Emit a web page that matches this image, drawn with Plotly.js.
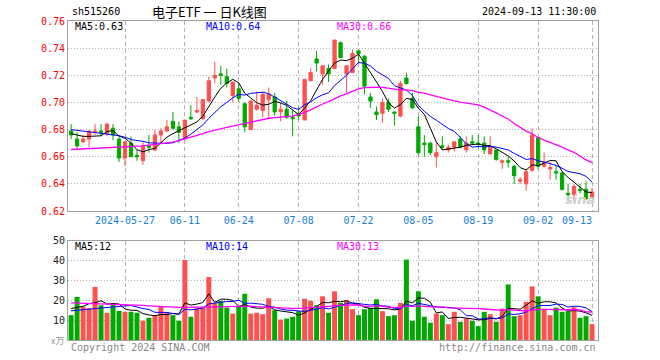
<!DOCTYPE html>
<html><head><meta charset="utf-8">
<script src="https://cdn.plot.ly/plotly-3.0.1.min.js"></script>
<style>html,body{margin:0;padding:0;background:#fff}#chart{width:660px;height:360px}</style>
</head><body><div id="chart"></div>
<script>
const dates = ['2024-05-14','2024-05-15','2024-05-16','2024-05-17','2024-05-20','2024-05-21','2024-05-22','2024-05-23','2024-05-24','2024-05-27','2024-05-28','2024-05-29','2024-05-30','2024-05-31',
'2024-06-03','2024-06-04','2024-06-05','2024-06-06','2024-06-07','2024-06-11','2024-06-12','2024-06-13','2024-06-14','2024-06-17','2024-06-18','2024-06-19','2024-06-20','2024-06-21','2024-06-24','2024-06-25','2024-06-26','2024-06-27','2024-06-28',
'2024-07-01','2024-07-02','2024-07-03','2024-07-04','2024-07-05','2024-07-08','2024-07-09','2024-07-10','2024-07-11','2024-07-12','2024-07-15','2024-07-16','2024-07-17','2024-07-18','2024-07-19','2024-07-22','2024-07-23','2024-07-24','2024-07-25','2024-07-26','2024-07-29','2024-07-30','2024-07-31',
'2024-08-01','2024-08-02','2024-08-05','2024-08-06','2024-08-07','2024-08-08','2024-08-09','2024-08-12','2024-08-13','2024-08-14','2024-08-15','2024-08-16','2024-08-19','2024-08-20','2024-08-21','2024-08-22','2024-08-23','2024-08-26','2024-08-27','2024-08-28','2024-08-29','2024-08-30',
'2024-09-02','2024-09-03','2024-09-04','2024-09-05','2024-09-06','2024-09-09','2024-09-10','2024-09-11','2024-09-12','2024-09-13'];

const openP = [0.679,0.673,0.671,0.673,0.678,0.679,0.677,0.681,0.673,0.659,0.670,0.661,0.657,0.668,
0.665,0.676,0.679,0.686,0.682,0.674,0.689,0.693,0.688,0.701,0.718,0.721,0.719,0.705,0.710,0.699,0.680,0.695,0.694,
0.702,0.704,0.693,0.695,0.689,0.692,0.687,0.716,0.732,0.721,0.725,0.725,0.744,0.721,0.722,0.738,0.734,0.704,0.693,0.692,0.700,0.693,0.690,
0.718,0.703,0.682,0.670,0.670,0.660,0.668,0.665,0.667,0.673,0.665,0.671,0.670,0.670,0.662,0.665,0.656,0.657,0.653,0.642,0.640,0.650,
0.674,0.653,0.651,0.649,0.648,0.633,0.632,0.636,0.636,0.630];
const highP = [0.684,0.678,0.676,0.679,0.684,0.684,0.685,0.684,0.675,0.671,0.675,0.665,0.671,0.676,
0.680,0.681,0.687,0.693,0.686,0.687,0.698,0.704,0.702,0.719,0.730,0.727,0.725,0.715,0.714,0.700,0.702,0.708,0.708,
0.711,0.707,0.700,0.701,0.694,0.697,0.717,0.725,0.738,0.727,0.728,0.746,0.745,0.727,0.739,0.739,0.735,0.707,0.697,0.703,0.703,0.693,0.716,
0.722,0.707,0.690,0.676,0.671,0.671,0.675,0.669,0.671,0.675,0.675,0.676,0.676,0.675,0.675,0.665,0.658,0.660,0.654,0.645,0.651,0.681,
0.674,0.663,0.656,0.654,0.649,0.640,0.640,0.640,0.642,0.637];
const lowP = [0.673,0.665,0.670,0.667,0.676,0.675,0.675,0.672,0.656,0.653,0.660,0.657,0.654,0.663,
0.664,0.670,0.678,0.680,0.670,0.672,0.687,0.692,0.687,0.700,0.714,0.713,0.711,0.700,0.700,0.678,0.680,0.694,0.689,
0.689,0.690,0.686,0.688,0.675,0.687,0.687,0.716,0.723,0.713,0.715,0.725,0.733,0.707,0.722,0.729,0.706,0.696,0.687,0.685,0.693,0.683,0.689,
0.713,0.695,0.661,0.660,0.661,0.652,0.665,0.663,0.664,0.666,0.663,0.669,0.666,0.662,0.662,0.657,0.651,0.652,0.640,0.640,0.635,0.649,
0.651,0.652,0.643,0.643,0.635,0.627,0.627,0.633,0.628,0.629];
const closeP = [0.676,0.668,0.673,0.679,0.679,0.678,0.684,0.676,0.659,0.671,0.660,0.660,0.668,0.667,
0.676,0.679,0.682,0.681,0.678,0.687,0.688,0.694,0.702,0.716,0.720,0.720,0.714,0.715,0.703,0.682,0.701,0.698,0.706,
0.706,0.693,0.695,0.689,0.688,0.690,0.717,0.722,0.729,0.727,0.721,0.746,0.733,0.727,0.736,0.736,0.712,0.701,0.691,0.700,0.695,0.692,0.714,
0.714,0.696,0.663,0.669,0.663,0.663,0.667,0.667,0.671,0.667,0.670,0.670,0.669,0.665,0.667,0.658,0.657,0.656,0.646,0.643,0.649,0.676,
0.653,0.656,0.652,0.648,0.636,0.632,0.638,0.635,0.629,0.634];
const volume = [12.5,21.7,16.8,16.0,26.7,17.5,13.7,18.0,14.7,14.2,14.2,13.7,9.7,11.2,
12.5,17.0,13.7,12.5,9.7,40.3,11.7,16.3,16.3,31.7,18.7,19.7,16.3,13.3,16.7,23.3,13.3,13.7,13.0,
21.0,15.0,10.3,10.8,11.7,14.5,20.8,19.7,17.5,22.0,13.7,24.5,18.7,20.0,15.5,12.5,15.5,16.2,20.5,14.5,12.0,12.5,18.7,
40.5,9.7,24.5,11.7,8.7,13.3,12.5,8.0,14.2,9.2,10.8,9.7,7.0,14.2,13.0,9.2,15.8,28.0,12.0,12.5,19.2,27.0,
22.0,15.5,12.5,16.3,14.2,14.5,16.5,11.2,12.0,8.0];

// moving-average values for the first days (before a full window exists)
const ma5Head = [0.677,0.676,0.675,0.675];
const ma10Head = [0.680,0.6795,0.679,0.6785,0.678,0.6775,0.677,0.6765,0.6755];
const ma30Head = [0.6653,0.6655,0.6656,0.6658,0.6660,0.6663,0.6666,0.6668,0.6670,0.6673,0.6675,0.6677,0.6680,0.6685,0.6690,0.6694,0.6700,0.6708,0.6718,0.6730,0.6742,0.6755,0.6770,0.6785,0.6797,0.6807,0.6816,0.6825,0.6835];
const vma5Head = [15.8,16.3,17.0,18.3];
const vma10Head = [14.7,15.0,15.3,15.6,16.0,16.3,16.6,16.8,17.0];
const vma30Head = [18.7,18.6,18.5,18.4,18.4,18.3,18.3,18.2,18.0,17.9,17.7,17.5,17.4,17.2,17.0,16.9,16.7,16.6,16.4,16.4,16.4,16.4,16.5,16.5,16.6,16.7,16.8,16.9,16.9];

const dateTicks = ['2024-05-27','2024-06-11','2024-06-24','2024-07-08','2024-07-22','2024-08-05','2024-08-19','2024-09-02','2024-09-13'];
const dateTickText = ['2024-05-27','06-11','06-24','07-08','07-22','08-05','08-19','09-02','09-13'];
const priceTicks = [0.62,0.64,0.66,0.68,0.70,0.72,0.74,0.76];
const volTicks = [10,20,30,40,50];
const priceLegend = ['MA5:0.63','MA10:0.64','MA30:0.66'];
const volLegend = ['MA5:12','MA10:14','MA30:13'];

function movingAvg(vals, n, head){
  return vals.map((v,i)=>{
    if(i < n-1) return head[i];
    let s=0; for(let k=i-n+1;k<=i;k++) s+=vals[k];
    return s/n;
  });
}
const RED='#ff5050', GREEN='#00a800';
const maColors=['#000000','#0000ff','#ff00ff'];
const maWidths=[1,1,1.3];

const pMA=[movingAvg(closeP,5,ma5Head),movingAvg(closeP,10,ma10Head),movingAvg(closeP,30,ma30Head)];
const vMA=[movingAvg(volume,5,vma5Head),movingAvg(volume,10,vma10Head),movingAvg(volume,30,vma30Head)];
const volColors = closeP.map((c,i)=> c>=openP[i] ? RED : GREEN);

const traces=[];
traces.push({type:'bar',x:dates,y:volume,xaxis:'x2',yaxis:'y2',marker:{color:volColors,line:{width:0}},hoverinfo:'skip'});
for(let k=0;k<3;k++){
  traces.push({type:'scatter',mode:'lines',x:dates,y:vMA[k],xaxis:'x2',yaxis:'y2',line:{color:maColors[k],width:maWidths[k]},hoverinfo:'skip'});
}
traces.push({type:'candlestick',x:dates,open:openP,high:highP,low:lowP,close:closeP,xaxis:'x',yaxis:'y',
  increasing:{line:{color:RED,width:1},fillcolor:RED},decreasing:{line:{color:GREEN,width:1},fillcolor:GREEN},whiskerwidth:0,hoverinfo:'skip'});
for(let k=0;k<3;k++){
  traces.push({type:'scatter',mode:'lines',x:dates,y:pMA[k],xaxis:'x',yaxis:'y',line:{color:maColors[k],width:maWidths[k]},hoverinfo:'skip'});
}

function px(x){return (x-68)/530;}
function py(y){return (340-y)/319;}
const MONO='DejaVu Sans Mono';
const grid='#b4b4b4', frame='#a0a0a0';
const lastIdx = dateTickText.length-1;
// the last date label sits left of its gridline (it is placed as an annotation below)
const shownTickText = dateTickText.map((t,i)=> i===lastIdx ? '' : t);
const xcommon={type:'category',categoryorder:'array',categoryarray:dates,range:[-0.52,88.0],tickvals:dateTicks,ticktext:shownTickText,
  showgrid:true,gridcolor:grid,griddash:'4px,3px',gridwidth:1,showline:true,mirror:true,linecolor:frame,linewidth:1,ticks:'',zeroline:false,fixedrange:true};
const layout={
  width:660,height:360,margin:{l:68,r:62,t:21,b:20,pad:0},
  paper_bgcolor:'#ffffff',plot_bgcolor:'#ffffff',showlegend:false,
  boxgap:0.22,bargap:0.17,
  font:{family:MONO,size:10,color:'#000'},
  xaxis:Object.assign({},xcommon,{anchor:'y',domain:[0,1],rangeslider:{visible:false},tickfont:{family:MONO,size:10,color:'#1a7fd4'}}),
  xaxis2:Object.assign({},xcommon,{anchor:'y2',domain:[0,1],showticklabels:false}),
  yaxis:{domain:[py(211),1],range:[0.62,0.76],tickvals:priceTicks,ticktext:priceTicks.map(v=>v.toFixed(2)),
    tickfont:{family:MONO,size:10,color:'#ff0000'},showgrid:true,gridcolor:grid,griddash:'1px,2px',showline:true,mirror:true,
    linecolor:frame,linewidth:1,ticks:'',zeroline:false,fixedrange:true},
  yaxis2:{domain:[0,py(240.7)],range:[0,50],tickvals:volTicks,ticktext:volTicks.map(String),
    tickfont:{family:MONO,size:10,color:'#222'},showgrid:true,gridcolor:grid,griddash:'1px,2px',showline:true,mirror:true,
    linecolor:frame,linewidth:1,ticks:'',zeroline:false,fixedrange:true},
  annotations:[]
};
const A=layout.annotations;
function ann(text,x,y,color,anchor,size,family){
  A.push({text:text,xref:'paper',yref:'paper',x:px(x),y:py(y),xanchor:anchor||'left',yanchor:'middle',showarrow:false,
    font:{family:family||MONO,size:size||10,color:color||'#000'}});
}
ann('sh515260',70,12,'#000','left',10);
ann('电子ETF 一 日K线图',150,12,'#000','left',13,'Noto Sans CJK SC');
ann('2024-09-13 11:30:00',598,12,'#000','right',10);
const legX=[73,204,335];
for(let k=0;k<3;k++){ ann(priceLegend[k],legX[k],27,maColors[k],'left',10); ann(volLegend[k],legX[k],247,maColors[k],'left',10); }
ann(dateTickText[lastIdx],577,220,'#1a7fd4','center',10);
ann('x万',66,341,'#999','right',9,'Noto Sans CJK SC');
ann('Copyright 2024 SINA.COM',69,347,'#888','left',10);
ann('http://finance.sina.com.cn',598,347,'#888','right',10);
ann('<b><i>sina</i></b>',580,200,'#cfcfcf','center',13,'DejaVu Sans');

Plotly.newPlot('chart',traces,layout,{staticPlot:true,displayModeBar:false});
</script></body></html>
